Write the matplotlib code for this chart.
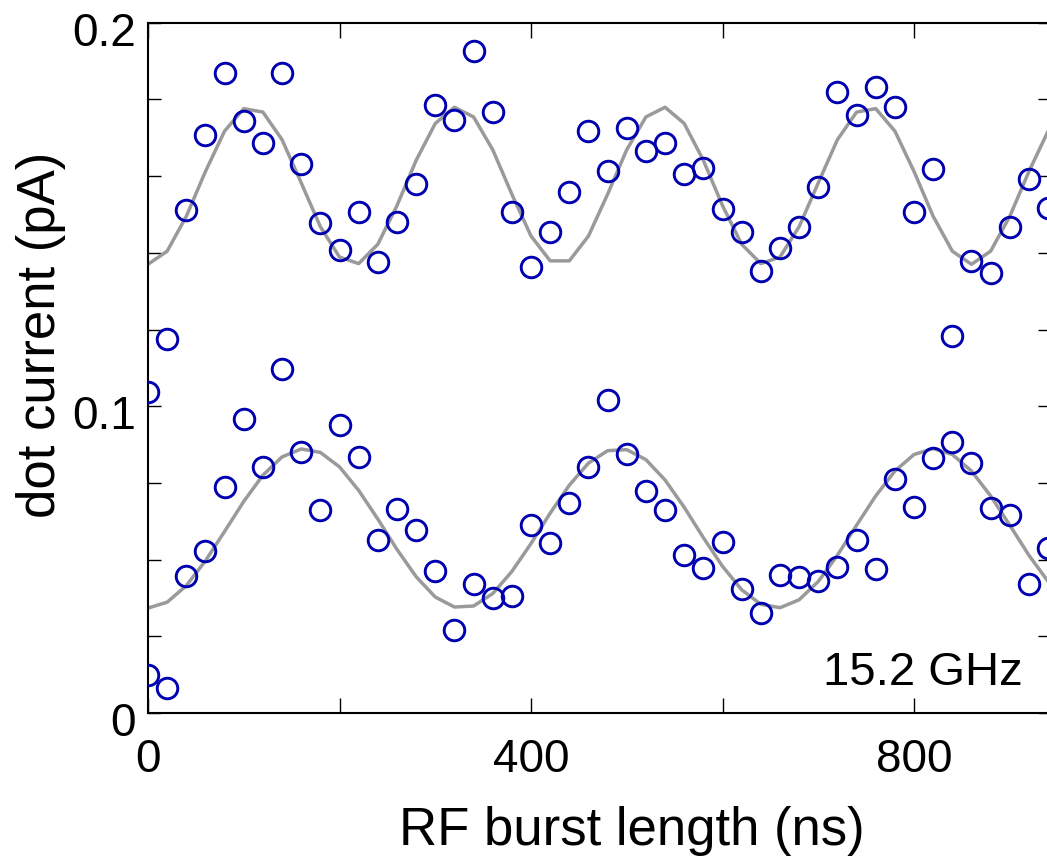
import numpy as np
import matplotlib
matplotlib.use('Agg')
import matplotlib.pyplot as plt
from matplotlib.transforms import ScaledTranslation

# burst lengths (ns), one point every 20 ns
t_ns = np.arange(0, 960, 20)

# measured dot current (pA), upper trace
dots_upper = [0.0931, 0.1084, 0.1457, 0.1675, 0.1853, 0.1715, 0.1652, 0.1853,
              0.1591, 0.1419, 0.1341, 0.1452, 0.1308, 0.1423, 0.1533, 0.1762,
              0.1718, 0.1919, 0.1742, 0.1452, 0.1293, 0.1394, 0.1509, 0.1685,
              0.1570, 0.1695, 0.1628, 0.1652, 0.1562, 0.1580, 0.1461, 0.1394,
              0.1282, 0.1346, 0.1409, 0.1523, 0.1800, 0.1733, 0.1815, 0.1757,
              0.1452, 0.1575, 0.1093, 0.1310, 0.1276, 0.1409, 0.1547, 0.1463]

# measured dot current (pA), lower trace
dots_lower = [0.0110, 0.0072, 0.0397, 0.0469, 0.0654, 0.0851, 0.0712, 0.0997,
              0.0755, 0.0588, 0.0835, 0.0741, 0.0501, 0.0591, 0.0530, 0.0411,
              0.0240, 0.0373, 0.0334, 0.0339, 0.0545, 0.0493, 0.0608, 0.0712,
              0.0907, 0.0750, 0.0644, 0.0588, 0.0458, 0.0419, 0.0496, 0.0358,
              0.0291, 0.0400, 0.0395, 0.0383, 0.0424, 0.0501, 0.0416, 0.0677,
              0.0596, 0.0738, 0.0786, 0.0725, 0.0593, 0.0574, 0.0373, 0.0478]

# gray fit curves, read at the same burst lengths
fit_upper = [0.1300, 0.1338, 0.1439, 0.1569, 0.1686, 0.1751, 0.1741, 0.1661,
             0.1536, 0.1409, 0.1321, 0.1302, 0.1358, 0.1470, 0.1601, 0.1708,
             0.1755, 0.1727, 0.1632, 0.1503, 0.1382, 0.1310, 0.1310, 0.1382,
             0.1503, 0.1632, 0.1727, 0.1755, 0.1708, 0.1601, 0.1470, 0.1358,
             0.1302, 0.1321, 0.1409, 0.1536, 0.1661, 0.1741, 0.1751, 0.1686,
             0.1569, 0.1439, 0.1338, 0.1300, 0.1338, 0.1439, 0.1569, 0.1686]

fit_lower = [0.0304, 0.0321, 0.0369, 0.0441, 0.0526, 0.0613, 0.0689, 0.0742,
             0.0765, 0.0755, 0.0713, 0.0645, 0.0562, 0.0474, 0.0395, 0.0336,
             0.0307, 0.0310, 0.0346, 0.0410, 0.0491, 0.0579, 0.0660, 0.0724,
             0.0760, 0.0763, 0.0734, 0.0675, 0.0596, 0.0508, 0.0425, 0.0357,
             0.0315, 0.0305, 0.0328, 0.0381, 0.0457, 0.0544, 0.0629, 0.0701,
             0.0749, 0.0766, 0.0749, 0.0701, 0.0629, 0.0544, 0.0457, 0.0381]

xtick_vals = [0, 200, 400, 600, 800]
xtick_text = ['0', '', '400', '', '800']
ytick_text = ['0', '', '', '', '0.1', '', '', '', '', '0.2']

plt.rcParams['font.family'] = ['Liberation Sans', 'DejaVu Sans']

fig = plt.figure(figsize=(10.47, 8.56), dpi=100)
ax = fig.add_axes([148 / 1047, 143 / 856, 902 / 1047, 690.3 / 856])

ax.plot(t_ns, fit_upper, color='#9a9a9a', lw=2.5, zorder=2, solid_joinstyle='round')
ax.plot(t_ns, fit_lower, color='#9a9a9a', lw=2.5, zorder=2, solid_joinstyle='round')
for dots in (dots_upper, dots_lower):
    ax.plot(t_ns, dots, 'o', ms=14.8, mfc='none', mec='#0000b0', mew=2.1, zorder=3)

ax.set_xlim(0, 942)
ax.set_ylim(0, 0.2)

ax.set_xticks(xtick_vals)
ax.set_xticklabels(xtick_text)
ax.set_yticks(np.linspace(0, 0.2, 10))
ax.set_yticklabels(ytick_text)

ax.tick_params(direction='in', top=True, right=True, width=1, labelsize=33, colors='black')
ax.tick_params(axis='x', length=11, pad=18)
ax.tick_params(axis='y', length=9, pad=8.6)

# tick labels on the y axis sit a bit under their ticks
for lab in ax.get_yticklabels():
    lab.set_transform(lab.get_transform() + ScaledTranslation(0, -6 / 100, fig.dpi_scale_trans))

for sp in ax.spines.values():
    sp.set_linewidth(1.5)

ax.set_xlabel('RF burst length (ns)', fontsize=38, va='baseline')
ax.xaxis.set_label_coords(0.5366, -0.1912)
ax.set_ylabel('dot current (pA)', fontsize=38)
ax.yaxis.label.set_va('baseline')
ax.yaxis.set_label_coords(-0.1031, 0.5476)

ax.text(0.7483, 0.0406, '15.2 GHz', transform=ax.transAxes, fontsize=34, va='baseline')

fig.savefig('out.png', dpi=100)
